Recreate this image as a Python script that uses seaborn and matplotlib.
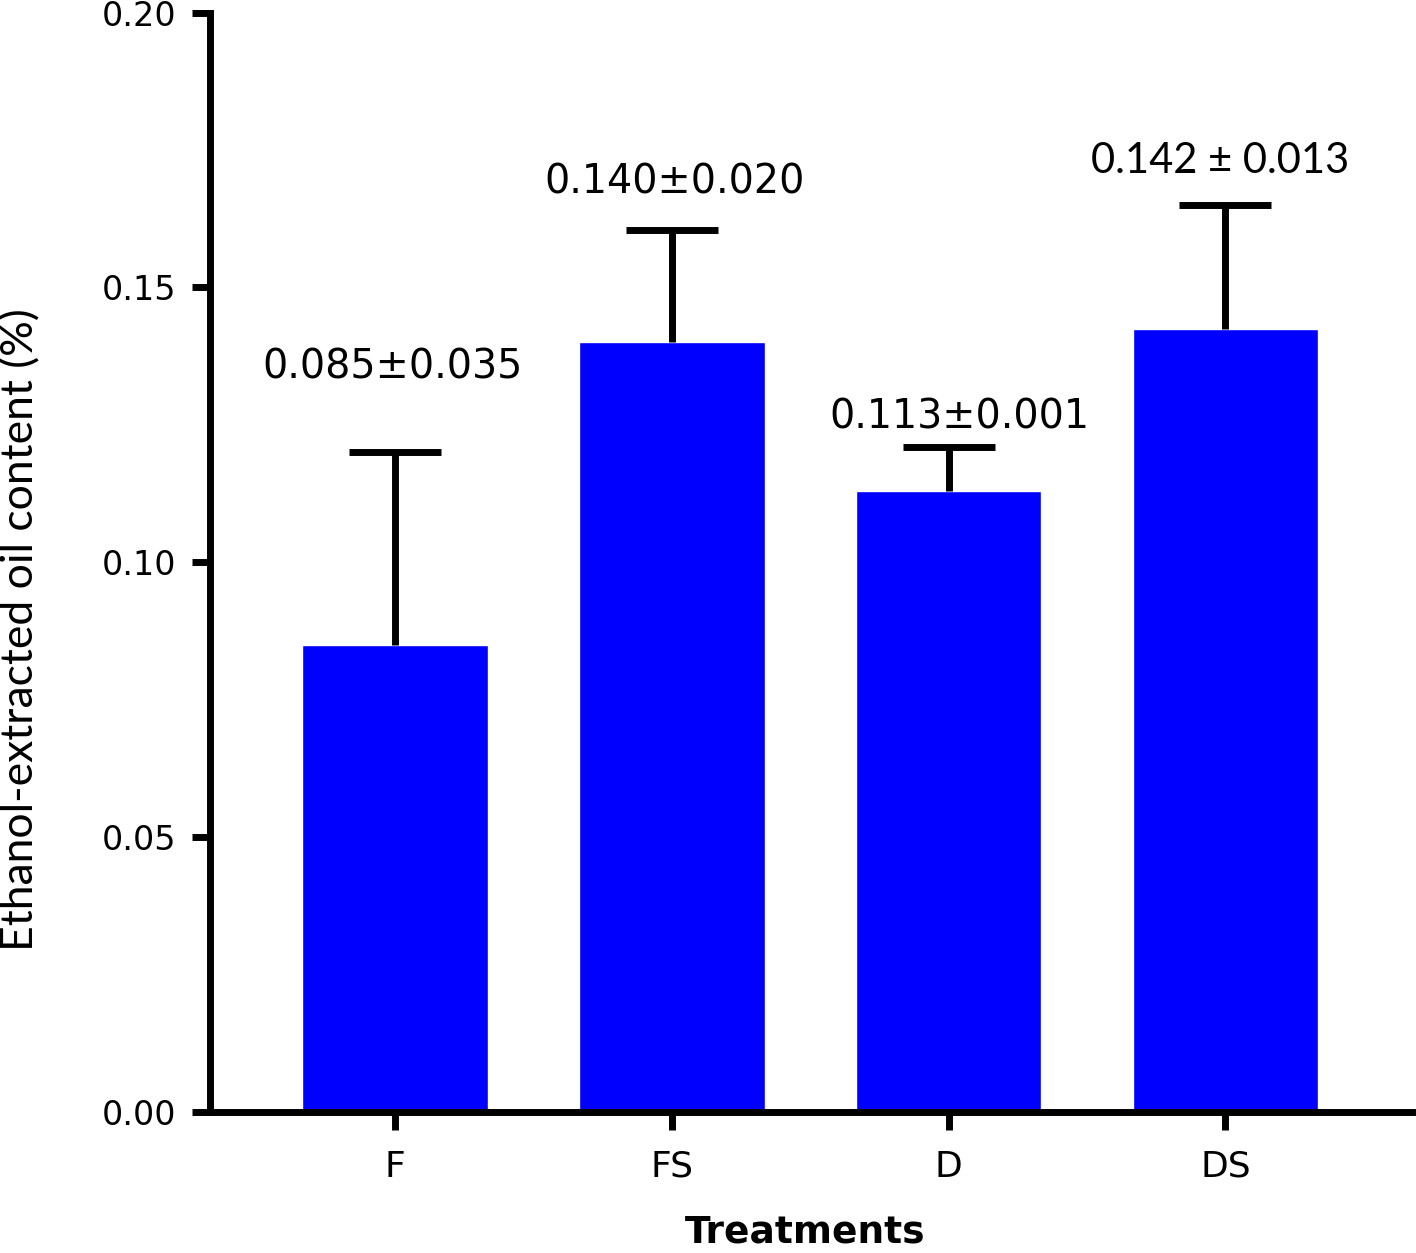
import matplotlib
matplotlib.use("Agg")
import matplotlib.pyplot as plt
import seaborn as sns
import pandas as pd
import numpy as np

# ---- data ----
categories = ["F", "FS", "D", "DS"]
means = [0.085, 0.140, 0.113, 0.1425]
errors = [0.035, 0.0205, 0.008, 0.0225]
bar_labels = ["0.085\u00b10.035", "0.140\u00b10.020", "0.113\u00b10.001", "0.142 \u00b1 0.013"]
label_y = [0.1355, 0.169, 0.1263, 0.173]
label_dx = [-0.01, 0.01, 0.04, -0.02]
yticks = [0.00, 0.05, 0.10, 0.15, 0.20]
ytick_labels = ["0.00", "0.05", "0.10", "0.15", "0.20"]

sns.set_theme(style="white")
plt.rcParams['font.family'] = ['DejaVu Sans']

df = pd.DataFrame({"Treatment": categories, "Value": means})

fig = plt.figure(figsize=(14.16, 12.53), dpi=100)
ax = fig.add_axes([0.1483, 0.1125, 0.849, 0.8775])

sns.barplot(data=df, x="Treatment", y="Value", color="#0000FF", saturation=1,
            width=0.67, errorbar=None, ax=ax, zorder=2)
x = np.arange(len(categories))
eb = ax.errorbar(x, means, yerr=[np.zeros(len(errors)), errors], fmt="none",
                 ecolor="black", elinewidth=5, capsize=33, capthick=5, zorder=3)
# keep only the upper caps
for cl in eb[1]:
    yd = np.asarray(cl.get_ydata(), dtype=float)
    if np.allclose(yd, np.asarray(means)):
        cl.set_visible(False)

ax.set_xlim(-0.669, 3.675)
ax.set_ylim(0, 0.20)
ax.set_yticks(yticks)
ax.set_yticklabels(ytick_labels)

for s in ["top", "right"]:
    ax.spines[s].set_visible(False)
for s in ["left", "bottom"]:
    ax.spines[s].set_linewidth(5)
    ax.spines[s].set_color("black")
ax.spines["left"].set_capstyle("projecting")

ax.tick_params(axis="both", direction="out", length=13, width=5, color="black",
               labelcolor="black")
ax.tick_params(axis="y", pad=11, left=True, labelsize=24)
ax.tick_params(axis="x", pad=14, bottom=True, labelsize=26)

ax.set_xlabel("Treatments", fontsize=27, fontweight="bold", color="black")
ax.xaxis.label.set_va("center")
ax.xaxis.set_label_coords(0.495, -(1232 - 1112) / 1099.5)

ax.set_ylabel("Ethanol-extracted oil content (%)", fontsize=32, color="black",
              family=["Lato", "DejaVu Sans"])
ax.yaxis.label.set_va("center")
ax.yaxis.set_label_coords((21 - 210) / 1202, 1 - (630 - 12.5) / 1099.5)

for i, (txt, yy, dx) in enumerate(zip(bar_labels, label_y, label_dx)):
    fam = ["Lato", "DejaVu Sans"] if i == 3 else ["DejaVu Sans"]
    fs = 30 if i == 3 else 28.5
    ax.text(i + dx, yy, txt, ha="center", va="center", fontsize=fs,
            family=fam, color="black")

fig.savefig("out.png", dpi=100)
